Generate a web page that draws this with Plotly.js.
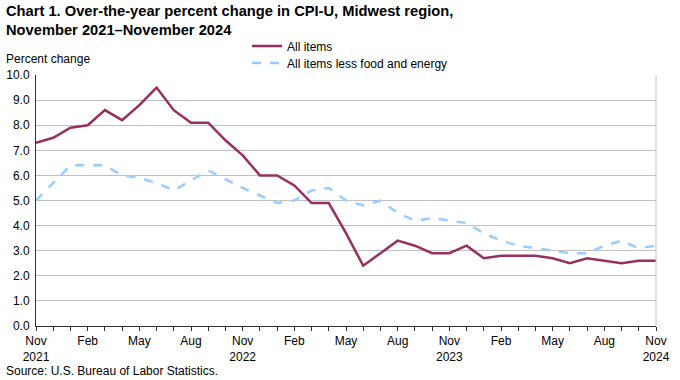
<!DOCTYPE html>
<html>
<head>
<meta charset="utf-8">
<script src="https://cdn.plot.ly/plotly-3.0.1.min.js"></script>
<style>html,body{margin:0;padding:0;background:#fff}#chart{width:680px;height:380px}</style>
</head>
<body>
<div id="chart"></div>
<script>
var months = ['Nov 2021','Dec 2021','Jan 2022','Feb 2022','Mar 2022','Apr 2022','May 2022','Jun 2022','Jul 2022','Aug 2022','Sep 2022','Oct 2022',
  'Nov 2022','Dec 2022','Jan 2023','Feb 2023','Mar 2023','Apr 2023','May 2023','Jun 2023','Jul 2023','Aug 2023','Sep 2023','Oct 2023',
  'Nov 2023','Dec 2023','Jan 2024','Feb 2024','Mar 2024','Apr 2024','May 2024','Jun 2024','Jul 2024','Aug 2024','Sep 2024','Oct 2024','Nov 2024'];
var allItems = [7.3,7.5,7.9,8.0,8.6,8.2,8.8,9.5,8.6,8.1,8.1,7.4,
  6.8,6.0,6.0,5.6,4.9,4.9,3.7,2.4,2.9,3.4,3.2,2.9,
  2.9,3.2,2.7,2.8,2.8,2.8,2.7,2.5,2.7,2.6,2.5,2.6,2.6];
var coreItems = [5.0,5.7,6.4,6.4,6.4,6.0,5.9,5.7,5.4,5.8,6.2,5.85,
  5.5,5.2,4.9,5.0,5.4,5.5,5.0,4.8,5.0,4.5,4.2,4.3,
  4.2,4.1,3.7,3.4,3.2,3.1,3.0,2.9,2.9,3.2,3.4,3.1,3.2];
var tickLabels = ['Nov<br>2021','','','Feb','','','May','','','Aug','','',
  'Nov<br>2022','','','Feb','','','May','','','Aug','','',
  'Nov<br>2023','','','Feb','','','May','','','Aug','','',
  'Nov<br>2024'];
var seriesNames = ['All items','All items less food and energy'];

var traces = [
  {x: months, y: allItems, name: seriesNames[0], type: 'scatter', mode: 'lines', legend: 'legend',
   line: {color: '#97305E', width: 2.5}},
  {x: months, y: coreItems, name: seriesNames[1], type: 'scatter', mode: 'lines', legend: 'legend2',
   line: {color: '#99CCFF', width: 2.5, dash: 'dash'}}
];
var font = {family: 'Arial, "Liberation Sans", sans-serif', size: 12, color: '#000'};
var W = 620, H = 251;
function py(pix) { return (326 - pix) / H; }
function px(pix) { return (pix - 36) / W; }
var layout = {
  width: 680, height: 380,
  margin: {l: 36, r: 24, t: 75, b: 54},
  paper_bgcolor: '#fff', plot_bgcolor: '#fff',
  font: font,
  showlegend: true,
  legend: {x: px(247), xanchor: 'left', y: py(46), yanchor: 'middle', bgcolor: 'rgba(0,0,0,0)', font: font},
  legend2: {x: px(247), xanchor: 'left', y: py(63), yanchor: 'middle', bgcolor: 'rgba(0,0,0,0)', font: font},
  xaxis: {type: 'category', range: [0, 36], tickmode: 'array', tickvals: months, ticktext: tickLabels,
    ticks: 'outside', ticklen: 4, tickcolor: '#333', tickwidth: 1,
    showline: true, linecolor: '#333', linewidth: 1, showgrid: false, zeroline: false,
    tickfont: font, tickangle: 0, fixedrange: true},
  xaxis2: {overlaying: 'x', anchor: 'y', side: 'bottom', range: [0, 36], tick0: 0, dtick: 1,
    ticks: 'inside', ticklen: 3, tickcolor: '#333', tickwidth: 1, showticklabels: false,
    showline: false, showgrid: false, zeroline: false, fixedrange: true},
  yaxis: {range: [0, 10], dtick: 1, tick0: 0, tickformat: '.1f', showgrid: true, gridcolor: '#C0C0C0', gridwidth: 1,
    showline: true, linecolor: '#333', linewidth: 1, zeroline: false, ticks: 'outside', ticklen: 3, tickcolor: 'rgba(0,0,0,0)',
    tickfont: font, fixedrange: true},
  shapes: [{type: 'line', xref: 'paper', yref: 'paper', x0: 1, x1: 1, y0: 0, y1: 1, line: {color: '#C0C0C0', width: 1}}],
  annotations: [
    {text: '<b>Chart 1. Over-the-year percent change in CPI-U, Midwest region,<br>November 2021\u2013November 2024</b>',
     xref: 'paper', yref: 'paper', x: px(4), y: py(1), xanchor: 'left', yanchor: 'top', align: 'left', showarrow: false,
     font: {family: 'Arial, "Liberation Sans", sans-serif', size: 14.7, color: '#000'}},
    {text: 'Percent change', xref: 'paper', yref: 'paper', x: px(4), y: py(68), xanchor: 'left', yanchor: 'bottom', showarrow: false, font: font},
    {text: 'Source: U.S. Bureau of Labor Statistics.', xref: 'paper', yref: 'paper', x: px(4), y: py(362), xanchor: 'left', yanchor: 'top', showarrow: false, font: font}
  ]
};
Plotly.newPlot('chart', traces, layout, {displayModeBar: false, staticPlot: true});
</script>
</body>
</html>
